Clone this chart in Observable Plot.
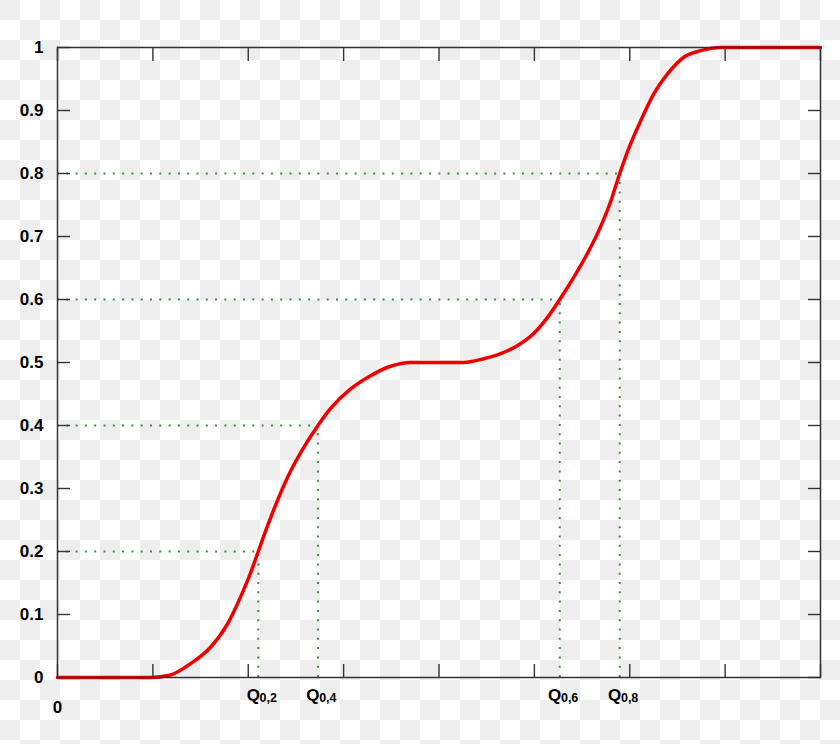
<!DOCTYPE html>
<html>
<head>
<meta charset="utf-8">
<script src="https://cdn.jsdelivr.net/npm/d3@7"></script>
<script src="https://cdn.jsdelivr.net/npm/@observablehq/plot@0.6"></script>
<style>
html, body { margin: 0; padding: 0; background: #ffffff; }
#chart svg {
  display: block;
  background-color: #ffffff !important;
  background-image:
    linear-gradient(45deg, #eeeeee 25%, transparent 25%, transparent 75%, #eeeeee 75%),
    linear-gradient(45deg, #eeeeee 25%, transparent 25%, transparent 75%, #eeeeee 75%) !important;
  background-size: 40px 40px !important;
  background-position: 20px 0px, 0px 20px !important;
}
</style>
</head>
<body>
<div id="chart"></div>
<script>
// Cumulative distribution curve (x, F(x))
const cdfX = [0, 0.976, 1.185, 1.395, 1.605, 1.783, 1.920, 2.025, 2.105, 2.203, 2.413, 2.570, 2.731, 2.864, 3.074, 3.283, 3.493, 3.703, 4.259, 4.469, 4.647, 4.825, 4.993, 5.140, 5.266, 5.416, 5.556, 5.696, 5.801, 5.895, 5.993, 6.116, 6.255, 6.396, 6.570, 6.745, 6.955, 8];
const cdfY = [0, 0, 0.004, 0.022, 0.048, 0.085, 0.128, 0.166, 0.200, 0.241, 0.318, 0.362, 0.400, 0.427, 0.458, 0.479, 0.494, 0.500, 0.500, 0.506, 0.514, 0.527, 0.546, 0.572, 0.600, 0.636, 0.673, 0.716, 0.756, 0.800, 0.841, 0.884, 0.927, 0.958, 0.985, 0.995, 1.000, 1.000];

// Quantiles
const quantileP = [0.2, 0.4, 0.6, 0.8];
const quantileX = [2.105, 2.731, 5.266, 5.895];
const quantileSub = ["0,2", "0,4", "0,6", "0,8"];

// Ticks
const xTicks = [0, 1, 2, 3, 4, 5, 6, 7, 8];
const xLabelTicks = [0];
const xLabelText = ["0"];
const yTicks = [0, 0.1, 0.2, 0.3, 0.4, 0.5, 0.6, 0.7, 0.8, 0.9, 1];
const yTickLabels = ["0", "0.1", "0.2", "0.3", "0.4", "0.5", "0.6", "0.7", "0.8", "0.9", "1"];

const curve = cdfX.map((x, i) => ({x, y: cdfY[i]}));
const quantiles = quantileP.map((p, i) => ({p, q: quantileX[i], sub: quantileSub[i]}));

const green = "#359535";
const axisColor = "#333333";
const dots = "2,7.3";

const chart = Plot.plot({
  width: 840,
  height: 744,
  marginLeft: 57,
  marginRight: 20,
  marginTop: 47,
  marginBottom: 67,
  style: "font-family: 'Liberation Sans', Arial, sans-serif; color: black;",
  x: {domain: [xTicks[0], xTicks[xTicks.length - 1]], axis: null},
  y: {domain: [yTicks[0], yTicks[yTicks.length - 1]], axis: null},
  marks: [
    Plot.ruleY(quantiles, {y: "p", x1: xTicks[0], x2: "q", stroke: green, strokeWidth: 2, strokeDasharray: dots, strokeLinecap: "butt"}),
    Plot.ruleX(quantiles, {x: "q", y1: yTicks[0], y2: "p", stroke: green, strokeWidth: 2, strokeDasharray: dots, strokeLinecap: "butt"}),
    Plot.axisY({anchor: "left", ticks: yTicks, tickSize: -13, tickFormat: () => "", stroke: axisColor, strokeWidth: 1.4, label: null}),
    Plot.axisY({anchor: "right", ticks: yTicks, tickSize: -13, tickFormat: () => "", stroke: axisColor, strokeWidth: 1.4, label: null}),
    Plot.axisX({anchor: "bottom", ticks: xTicks, tickSize: -13, tickFormat: () => "", stroke: axisColor, strokeWidth: 1.4, label: null}),
    Plot.axisX({anchor: "top", ticks: xTicks, tickSize: -13, tickFormat: () => "", stroke: axisColor, strokeWidth: 1.4, label: null}),
    Plot.axisY({anchor: "left", ticks: yTicks, tickSize: 0, tickPadding: 14, tickFormat: (d, i) => yTickLabels[i], fontSize: 17, fontWeight: "bold", fill: "black", label: null}),
    Plot.axisX({anchor: "bottom", ticks: xLabelTicks, tickSize: 0, tickPadding: 23, tickFormat: (d, i) => xLabelText[i], fontSize: 17, fontWeight: "bold", fill: "black", label: null}),
    Plot.text(quantiles, {x: "q", text: () => "Q", frameAnchor: "bottom", lineAnchor: "top", textAnchor: "end", dx: 1.6, dy: 11, fontSize: 17, fontWeight: "bold", fill: "black"}),
    Plot.text(quantiles, {x: "q", text: "sub", frameAnchor: "bottom", lineAnchor: "top", textAnchor: "start", dx: 1.2, dy: 15.5, fontSize: 12.5, fontWeight: "bold", fill: "black"}),
    Plot.line(curve, {x: "x", y: "y", stroke: "#ee0000", strokeWidth: 3.5, curve: "monotone-x"}),
    Plot.frame({stroke: axisColor, strokeWidth: 1.5})
  ]
});
document.getElementById("chart").append(chart);
</script>
</body>
</html>
